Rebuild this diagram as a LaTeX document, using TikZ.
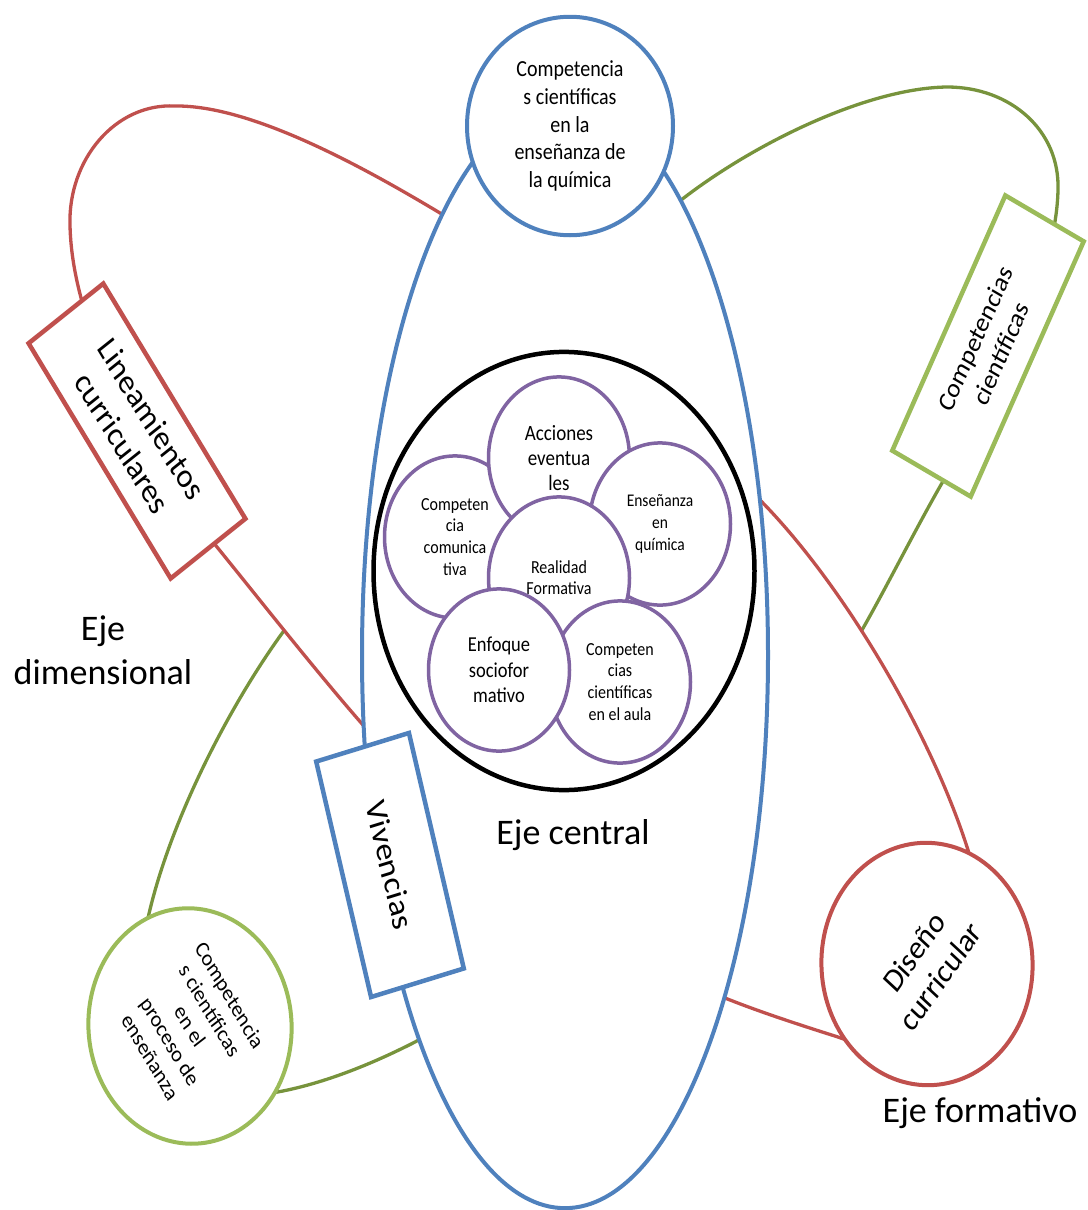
\documentclass[tikz,border=0pt]{standalone}
\usepackage{fontspec}
\setmainfont{Carlito}
\usetikzlibrary{shapes.geometric}

\definecolor{ejeazul}{HTML}{4F81BD}
\definecolor{ejerojo}{HTML}{C0504D}
\definecolor{ejeverde}{HTML}{77933C}
\definecolor{verdeclaro}{HTML}{9BBB59}
\definecolor{lila}{HTML}{8064A2}

\begin{document}
\begin{tikzpicture}[x=1pt, y=-1pt,
  eje/.style={font=\fontsize{36}{44}\selectfont, align=center, inner sep=0pt},
  orbita/.style={line width=3.3pt, fill=white},
  burbuja/.style={circle, draw=lila, line width=3.5pt, fill=white, minimum size=141pt, inner sep=0pt, align=center},
  rotulo/.style={rectangle, line width=4.5pt, fill=white, inner sep=0pt, align=center},
  anillo/.style={ellipse, line width=4pt, fill=white, inner sep=0pt, align=center}]
\useasboundingbox (0,0) rectangle (1087,1210);

% the whole diagram is stretched vertically
\begin{scope}[y=-0.869565pt, yscale=1.15, every node/.append style={transform shape}]
% orbits, back to front
\draw[orbita, draw=ejeverde] (685,197) .. controls (760,140) and (870,88) .. (947,87)
  .. controls (1010,87) and (1060,130) .. (1058,190)
  .. controls (1056,280) and (990,400) .. (942,483)
  .. controls (915,530) and (885,590) .. (862,630)
  .. controls (805,730) and (560,960) .. (415,1042)
  .. controls (370,1065) and (320,1085) .. (272,1093)
  .. controls (180,1120) and (120,1000) .. (148,918)
  .. controls (170,820) and (230,705) .. (283,632)
  .. controls (370,530) and (610,254) .. (685,197) -- cycle;
\draw[orbita, draw=ejerojo] (70,225) .. controls (68,160) and (115,103) .. (175,106)
  .. controls (250,105) and (360,165) .. (440,213)
  .. controls (520,261) and (676,416) .. (758,498)
  .. controls (840,580) and (930,730) .. (968,850)
  .. controls (1000,960) and (920,1070) .. (838,1037)
  .. controls (800,1025) and (760,1012) .. (725,998)
  .. controls (625,958) and (443,817) .. (363,725)
  .. controls (315,670) and (260,600) .. (217,547)
  .. controls (144,457) and (72,330) .. (70,225) -- cycle;
\node[anillo, draw=ejeazul, minimum width=406pt, minimum height=962pt] (central) at (565,655) {};

% central axis
\node[anillo, draw=ejeazul, minimum width=206pt, minimum height=190pt,
  font=\fontsize{20}{24}\selectfont] (quimica) at (570,126)
  {Competencia\\s científicas\\en la\\enseñanza de\\la química};
\node[rotulo, draw=ejeazul, minimum width=212pt, minimum height=96pt, rotate=-75,
  font=\fontsize{30}{36}\selectfont] (vivencias) at (390,865) {Vivencias};

% formative reality
\node[circle, draw=black, line width=4.5pt, fill=white, minimum size=381pt, inner sep=0pt] (realidad) at (564,571) {};
\node[burbuja, font=\fontsize{16}{19}\selectfont] (comunica) at (455,537) {Competen\\cia\\comunica\\tiva};
\node[burbuja, font=\fontsize{19}{22}\selectfont] (acciones) at (559,458) {Acciones\\eventua\\les};
\node[burbuja, font=\fontsize{15.5}{19}\selectfont] (ensenanza) at (660,524) {Enseñanza\\en\\química};
\node[burbuja, font=\fontsize{16}{18.5}\selectfont] (formativa) at (559,578) {Realidad\\Formativa};
\node[burbuja, font=\fontsize{16}{19}\selectfont] (aula) at (620,682) {Competen\\cias\\científicas\\en el aula};
\node[burbuja, font=\fontsize{18.5}{22}\selectfont] (enfoque) at (499,670) {Enfoque\\sociofor\\mativo};

% nodes on the outer orbits
\node[rotulo, draw=ejerojo, minimum width=249pt, minimum height=91pt, rotate=-55.2,
  font=\fontsize{30}{36}\selectfont] (lineam) at (137,431) {Lineamientos\\curriculares};
\node[rotulo, draw=verdeclaro, minimum width=249pt, minimum height=88pt, rotate=63,
  font=\fontsize{24}{29}\selectfont] (cientif) at (988,346) {Competencias\\científicas};
\node[anillo, draw=ejerojo, minimum width=210pt, minimum height=212pt, rotate=51,
  font=\fontsize{29}{34}\selectfont] (diseno) at (927,964) {Diseño\\curricular};
\node[anillo, draw=verdeclaro, minimum width=206pt, minimum height=202pt, rotate=-56,
  font=\fontsize{20}{24}\selectfont] (proceso) at (190,1026)
  {Competencia\\s científicas\\en el\\proceso de\\enseñanza};
\end{scope}

% axis names
\node[eje] (ejedim) at (103,650) {Eje\\dimensional};
\node[eje] (ejecen) at (573,835) {Eje central};
\node[eje] (ejefor) at (980,1113) {Eje formativo};
\end{tikzpicture}
\end{document}
